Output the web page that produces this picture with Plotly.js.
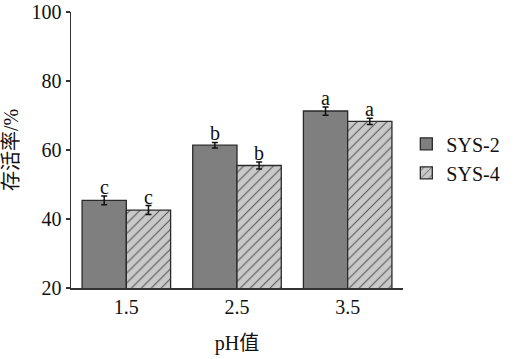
<!DOCTYPE html>
<html><head><meta charset="utf-8">
<script src="https://cdn.plot.ly/plotly-3.0.1.min.js"></script>
<style>html,body{margin:0;padding:0;background:#fff}#c{width:517px;height:359px}</style>
</head><body><div id="c"></div>
<script>
const categories = ['1.5', '2.5', '3.5'];
const sys2 = [45.4, 61.4, 71.3];
const sys2Err = [1.3, 0.8, 1.2];
const sys4 = [42.6, 55.5, 68.3];
const sys4Err = [1.3, 1.0, 0.9];
const sys2Letters = ['c', 'b', 'a'];
const sys4Letters = ['c', 'b', 'a'];

const font = '"Liberation Serif", "Noto Sans CJK SC", serif';

const traces = [
  {type:'bar', name:'SYS-2', x:categories, y:sys2,
   error_y:{type:'data', array:sys2Err, visible:true, color:'#111', thickness:1.5, width:3},
   marker:{color:'#7f7f7f', line:{color:'#2a2a2a', width:1.3}}},
  {type:'bar', name:'SYS-4', x:categories, y:sys4,
   error_y:{type:'data', array:sys4Err, visible:true, color:'#111', thickness:1.5, width:3},
   marker:{color:'#c9c9c9', line:{color:'#2a2a2a', width:1.3},
     pattern:{shape:'/', fgcolor:'#555', bgcolor:'#c9c9c9', size:7, solidity:0.15}}}
];

const annotations = [];
categories.forEach((c,i)=>{
  annotations.push({x:i-0.2, y:sys2[i]+sys2Err[i], xref:'x', yref:'y', text:sys2Letters[i],
    showarrow:false, yanchor:'bottom', yshift:-4, font:{family:font, size:20, color:'#111'}});
  annotations.push({x:i+0.2, y:sys4[i]+sys4Err[i], xref:'x', yref:'y', text:sys4Letters[i],
    showarrow:false, yanchor:'bottom', yshift:-4, font:{family:font, size:20, color:'#111'}});
});

const layout = {
  width:517, height:359,
  margin:{l:71, r:92, t:12, b:71},
  paper_bgcolor:'#fff', plot_bgcolor:'#fff',
  barmode:'group', bargap:0.2, bargroupgap:0,
  showlegend:true,
  legend:{x:1.01, xanchor:'left', y:0.47, yanchor:'middle', font:{family:font, size:20, color:'#111'},
    tracegroupgap:0, itemwidth:30, bgcolor:'rgba(0,0,0,0)', borderwidth:0},
  font:{family:font, color:'#111'},
  xaxis:{type:'category', range:[-0.5,2.5], showline:true, linecolor:'#333', linewidth:1.5,
    ticks:'', tickfont:{family:font, size:20, color:'#111'}, showgrid:false, zeroline:false,
    title:{text:'pH值', font:{family:font, size:20, color:'#111'}, standoff:19}},
  yaxis:{range:[20,100], dtick:20, showline:true, linecolor:'#333', linewidth:1.5,
    ticks:'outside', ticklen:4, tickwidth:1.2, tickcolor:'#333',
    tickfont:{family:font, size:20, color:'#111'}, showgrid:false, zeroline:false,
    title:{text:'存活率/%', font:{family:font, size:20, color:'#111'}, standoff:10}},
  annotations:annotations
};
Plotly.newPlot('c', traces, layout, {displayModeBar:false, staticPlot:true});
</script></body></html>
